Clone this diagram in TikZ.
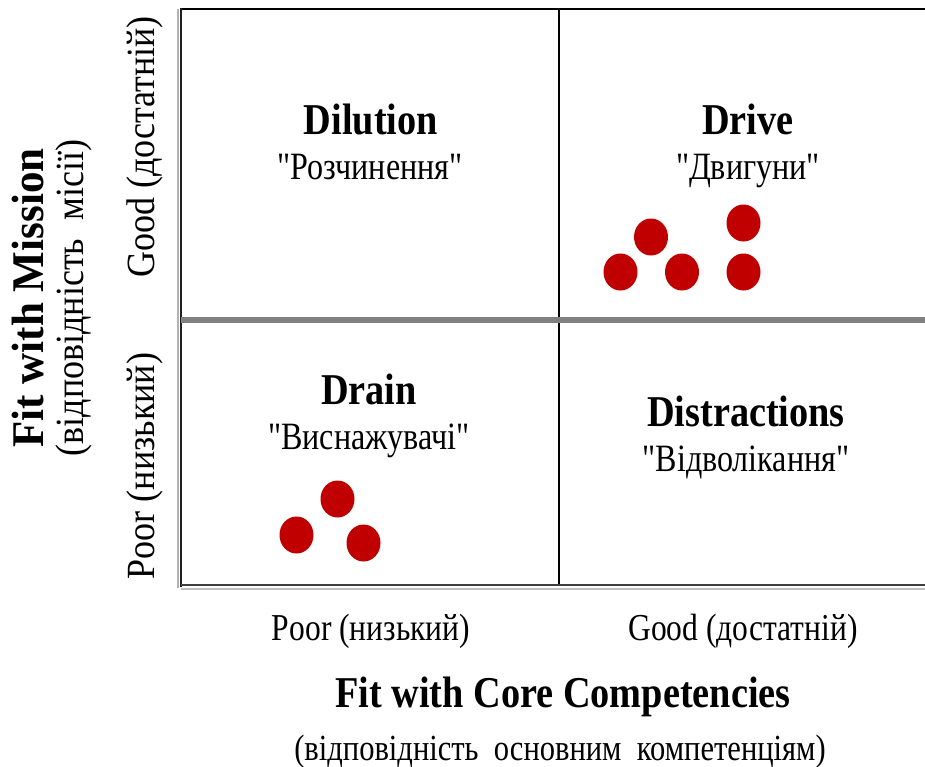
\documentclass[tikz,border=0pt]{standalone}
\usepackage{fontspec}
\setmainfont{Liberation Serif}
\newfontfamily\hfont{Liberation Serif}[FakeStretch=0.83]
\newfontfamily\hbfont{Liberation Serif}[FakeStretch=0.87]
\newfontfamily\vfont{Liberation Serif}[FakeStretch=0.9]
\newfontfamily\vbfont{Liberation Serif}[FakeStretch=0.95]
\definecolor{dotred}{HTML}{C00000}
\tikzset{
  quadtitle/.style={anchor=base,font=\hbfont\bfseries\fontsize{33}{33}\selectfont},
  quadsub/.style={anchor=base,font=\hfont\fontsize{29}{29}\selectfont},
  axislabel/.style={anchor=base,font=\hfont\fontsize{28.5}{28.5}\selectfont},
  vlabel/.style={anchor=base,rotate=90,font=\vfont\fontsize{30}{30}\selectfont},
}
\begin{document}
\begin{tikzpicture}[x=0.75pt,y=-0.75pt]
  \useasboundingbox (0,0) rectangle (925,767);
  % grid of the four quadrants
  \draw [line width=2.2pt,black] (181,9) -- (925,9);
  \draw [line width=1.5pt,black!30] (178,9) -- (178,588);
  \draw [line width=2.2pt,black!88] (181,8) -- (181,587);
  \draw [line width=1.6pt,black] (559,9) -- (559,586);
  \draw [line width=3.8pt,black!50] (181,320) -- (925,320);
  \draw [line width=1.5pt,black!25] (181,588.5) -- (925,588.5);
  \draw [line width=2.2pt,black!75] (181,585) -- (925,585);

  % quadrant names
  \node [quadtitle] (dil) at (371,134) {Dilution};
  \node [quadsub] (dilua) at (370,179) {"Розчинення"};
  \node [quadtitle] (drv) at (748,134) {Drive};
  \node [quadsub] (drvua) at (748,179) {"Двигуни"};
  \node [quadtitle] (drn) at (369,404) {Drain};
  \node [quadsub] (drnua) at (369,449) {"Виснажувачі"};
  \node [quadtitle] (dis) at (746,426) {Distractions};
  \node [quadsub] (disua) at (746,471) {"Відволікання"};

  % projects
  \foreach \p in {(651,237),(743.5,223),(620.5,272),(682,272),(743.5,272),
                  (337.5,499),(296.5,535),(363.5,543)}
    \fill [dotred] \p ellipse [x radius=17, y radius=18.5];

  % horizontal axis
  \node [axislabel] (xpoor) at (371,640) {Poor (низький)};
  \node [axislabel] (xgood) at (743,640) {Good (достатній)};
  \node [quadtitle] (xtitle) at (563,707) {Fit with Core Competencies};
  \node [axislabel,font=\hfont\fontsize{27.6}{27.6}\selectfont] (xsub) at (560,760)
        {(відповідність\ \ основним\ \ компетенціям)};

  % vertical axis
  \node [vlabel,font=\vbfont\bfseries\fontsize{34}{34}\selectfont] (ytitle) at (43,298) {Fit with Mission};
  \node [vlabel] (ysub) at (83,298) {(відповідність\ \ місії)};
  \node [vlabel] (ygood) at (154,147) {Good (достатній)};
  \node [vlabel] (ypoor) at (154,466) {Poor (низький)};
\end{tikzpicture}
\end{document}
